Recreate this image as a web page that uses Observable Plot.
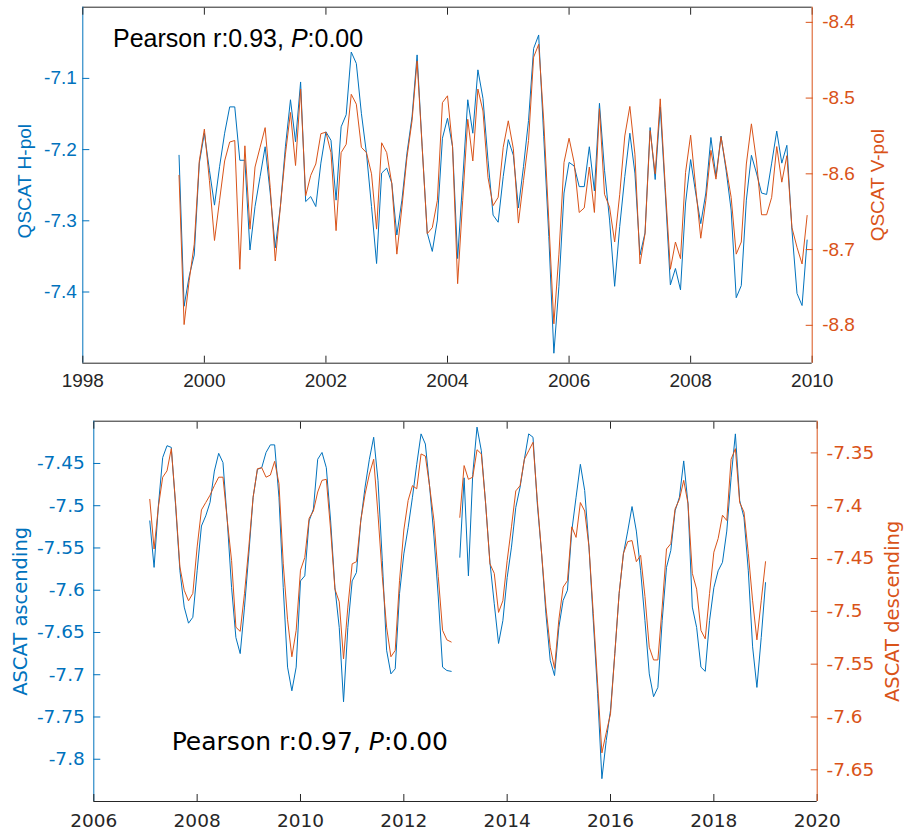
<!DOCTYPE html>
<html><head><meta charset="utf-8">
<script src="https://cdn.jsdelivr.net/npm/d3@7"></script>
<script src="https://cdn.jsdelivr.net/npm/@observablehq/plot@0.6"></script>
<style>
body{margin:0;background:#fff;}
#chart{position:relative;width:906px;height:836px;overflow:hidden;}
#chart svg{position:absolute;left:0;}
</style></head><body><div id="chart"></div>
<script>
const BLUE = "#0072BD", ORANGE = "#D95319", AX = "#262626";

// ---- Top panel: QSCAT, monthly from Aug 1999 to Dec 2009 ----
const qscatStart = [1999, 8];
const qscatHpol = [-7.208,-7.420,-7.378,-7.348,-7.219,-7.177,-7.229,-7.278,-7.224,-7.177,
 -7.140,-7.140,-7.215,-7.215,-7.341,-7.280,-7.238,-7.196,-7.261,-7.338,
 -7.280,-7.196,-7.130,-7.189,-7.105,-7.273,-7.266,-7.280,-7.219,-7.175,
 -7.187,-7.271,-7.168,-7.151,-7.063,-7.079,-7.149,-7.205,-7.280,-7.360,
 -7.233,-7.226,-7.247,-7.320,-7.271,-7.205,-7.154,-7.067,-7.196,-7.317,
 -7.343,-7.299,-7.184,-7.156,-7.196,-7.353,-7.243,-7.130,-7.177,-7.088,
 -7.128,-7.215,-7.292,-7.302,-7.238,-7.186,-7.208,-7.282,-7.224,-7.159,
 -7.058,-7.039,-7.182,-7.322,-7.486,-7.392,-7.261,-7.218,-7.223,-7.252,
 -7.252,-7.196,-7.258,-7.135,-7.229,-7.299,-7.392,-7.308,-7.238,-7.177,
 -7.233,-7.348,-7.317,-7.169,-7.242,-7.140,-7.261,-7.390,-7.367,-7.397,
 -7.275,-7.214,-7.261,-7.304,-7.261,-7.183,-7.238,-7.181,-7.229,-7.285,
 -7.408,-7.391,-7.271,-7.208,-7.233,-7.261,-7.263,-7.219,-7.174,-7.219,
 -7.194,-7.313,-7.402,-7.419,-7.327];
const qscatVpol = [-8.602,-8.799,-8.741,-8.693,-8.583,-8.541,-8.609,-8.688,-8.635,-8.583,
 -8.558,-8.556,-8.726,-8.563,-8.673,-8.591,-8.565,-8.539,-8.618,-8.715,
 -8.644,-8.574,-8.519,-8.589,-8.488,-8.629,-8.602,-8.587,-8.547,-8.545,
 -8.572,-8.675,-8.572,-8.561,-8.495,-8.508,-8.565,-8.572,-8.600,-8.673,
 -8.559,-8.572,-8.613,-8.706,-8.644,-8.578,-8.530,-8.451,-8.565,-8.679,
 -8.671,-8.635,-8.506,-8.497,-8.565,-8.745,-8.635,-8.528,-8.583,-8.488,
 -8.517,-8.605,-8.642,-8.631,-8.565,-8.530,-8.567,-8.665,-8.609,-8.556,
 -8.446,-8.429,-8.530,-8.662,-8.798,-8.706,-8.585,-8.553,-8.585,-8.651,
 -8.645,-8.591,-8.651,-8.514,-8.627,-8.644,-8.690,-8.627,-8.550,-8.511,
 -8.574,-8.719,-8.679,-8.543,-8.600,-8.501,-8.618,-8.726,-8.690,-8.712,
 -8.598,-8.549,-8.618,-8.685,-8.635,-8.569,-8.607,-8.551,-8.591,-8.631,
 -8.706,-8.690,-8.587,-8.534,-8.583,-8.654,-8.654,-8.631,-8.564,-8.611,
 -8.576,-8.671,-8.697,-8.719,-8.655];

// ---- Bottom panel: ASCAT, Feb 2007–Dec 2012 and Feb 2013–Jan 2019 ----
const ascatStart1 = [2007, 2];
const ascatStart2 = [2013, 2];
const ascatAsc1 = [-7.518,-7.573,-7.500,-7.443,-7.429,-7.431,-7.500,-7.577,-7.620,-7.639,
 -7.632,-7.577,-7.524,-7.512,-7.496,-7.459,-7.438,-7.449,-7.518,-7.597,
 -7.656,-7.675,-7.620,-7.557,-7.490,-7.457,-7.455,-7.437,-7.428,-7.428,
 -7.490,-7.597,-7.691,-7.719,-7.691,-7.589,-7.583,-7.518,-7.504,-7.445,
 -7.437,-7.455,-7.518,-7.597,-7.644,-7.732,-7.644,-7.589,-7.579,-7.518,
 -7.478,-7.445,-7.419,-7.470,-7.565,-7.671,-7.699,-7.693,-7.604,-7.557,
 -7.526,-7.490,-7.451,-7.415,-7.427,-7.478,-7.537,-7.608,-7.691,-7.695,
 -7.696];
const ascatAsc2 = [-7.561,-7.467,-7.583,-7.463,-7.407,-7.435,-7.498,-7.567,-7.616,-7.663,
 -7.636,-7.585,-7.549,-7.502,-7.478,-7.445,-7.415,-7.419,-7.498,-7.557,
 -7.628,-7.683,-7.701,-7.644,-7.612,-7.600,-7.530,-7.490,-7.451,-7.482,
 -7.549,-7.636,-7.722,-7.823,-7.778,-7.742,-7.675,-7.604,-7.557,-7.530,
 -7.501,-7.530,-7.577,-7.636,-7.699,-7.726,-7.715,-7.636,-7.573,-7.553,
 -7.506,-7.490,-7.447,-7.498,-7.620,-7.644,-7.691,-7.696,-7.636,-7.597,
 -7.577,-7.567,-7.530,-7.467,-7.415,-7.494,-7.514,-7.577,-7.667,-7.715,
 -7.656,-7.591];
const ascatDesc1 = [-7.394,-7.441,-7.401,-7.373,-7.367,-7.346,-7.398,-7.458,-7.480,-7.490,
 -7.483,-7.439,-7.404,-7.397,-7.390,-7.381,-7.373,-7.373,-7.414,-7.452,
 -7.515,-7.519,-7.483,-7.439,-7.392,-7.365,-7.364,-7.373,-7.371,-7.358,
 -7.379,-7.455,-7.508,-7.543,-7.518,-7.461,-7.449,-7.412,-7.405,-7.387,
 -7.376,-7.375,-7.423,-7.479,-7.491,-7.545,-7.496,-7.455,-7.453,-7.414,
 -7.389,-7.370,-7.356,-7.408,-7.467,-7.515,-7.543,-7.537,-7.471,-7.423,
 -7.395,-7.381,-7.384,-7.351,-7.353,-7.382,-7.414,-7.467,-7.518,-7.527,
 -7.529];
const ascatDesc2 = [-7.411,-7.362,-7.375,-7.373,-7.347,-7.351,-7.398,-7.455,-7.464,-7.501,
 -7.490,-7.452,-7.420,-7.386,-7.381,-7.356,-7.348,-7.340,-7.395,-7.445,
 -7.496,-7.534,-7.554,-7.508,-7.477,-7.471,-7.420,-7.430,-7.397,-7.405,
 -7.439,-7.502,-7.568,-7.634,-7.615,-7.597,-7.540,-7.483,-7.445,-7.434,
 -7.433,-7.453,-7.447,-7.486,-7.534,-7.546,-7.546,-7.496,-7.441,-7.436,
 -7.403,-7.394,-7.376,-7.398,-7.464,-7.479,-7.518,-7.526,-7.483,-7.444,
 -7.431,-7.409,-7.414,-7.356,-7.346,-7.397,-7.406,-7.445,-7.490,-7.527,
 -7.490,-7.453];

// ---- Axes ----
const topXDomain = [1998, 2010];
const topXTicks = [1998, 2000, 2002, 2004, 2006, 2008, 2010];
const topLeftDomain = [-7.5, -7.0];
const topLeftTicks = [-7.4, -7.3, -7.2, -7.1];
const topRightDomain = [-8.85, -8.38];
const topRightTicks = [-8.8, -8.7, -8.6, -8.5, -8.4];
const botXDomain = [2006, 2020];
const botXTicks = [2006, 2008, 2010, 2012, 2014, 2016, 2018, 2020];
const botLeftDomain = [-7.85, -7.40];
const botLeftTicks = [-7.8, -7.75, -7.7, -7.65, -7.6, -7.55, -7.5, -7.45];
const botRightDomain = [-7.68, -7.32];
const botRightTicks = [-7.65, -7.6, -7.55, -7.5, -7.45, -7.4, -7.35];

const labels = {
  topLeft: "QSCAT H-pol", topRight: "QSCAT V-pol",
  botLeft: "ASCAT ascending", botRight: "ASCAT descending",
  topStat: ["Pearson r:0.93, ", "P", ":0.00"],
  botStat: ["Pearson r:0.97, ", "P", ":0.00"]
};

function monthly([y, m], values, seg) {
  return values.map((v, i) => ({t: y + (m - 1 + i) / 12, v, seg}));
}

const topH = monthly(qscatStart, qscatHpol, 0);
const topV = monthly(qscatStart, qscatVpol, 0);
const botA = [...monthly(ascatStart1, ascatAsc1, 1), ...monthly(ascatStart2, ascatAsc2, 2)];
const botD = [...monthly(ascatStart1, ascatDesc1, 1), ...monthly(ascatStart2, ascatDesc2, 2)];

const fmt = d => String(d);
const chart = document.getElementById("chart");

function panel(cfg) {
  const common = {
    width: 906, height: cfg.height,
    marginLeft: cfg.mL, marginRight: cfg.mR, marginTop: cfg.mT, marginBottom: cfg.mB,
    style: {fontFamily: cfg.font, fontSize: cfg.fontSize + "px", background: "transparent", overflow: "visible"}
  };
  const left = Plot.plot({
    ...common,
    x: {domain: cfg.xDomain},
    y: {domain: cfg.leftDomain},
    marks: [
      Plot.ruleY([cfg.leftDomain[1]], {stroke: AX, strokeWidth: 1}),
      Plot.ruleY([cfg.leftDomain[0]], {stroke: AX, strokeWidth: 1}),
      Plot.ruleX([cfg.xDomain[0]], {stroke: BLUE, strokeWidth: 1}),
      Plot.axisX(cfg.xTicks, {anchor: "bottom", tickSize: -7, tickPadding: cfg.xPad, tickFormat: fmt, label: null, color: AX}),
      Plot.axisX(cfg.xTicks, {anchor: "top", tickSize: -7, tickFormat: () => "", label: null, color: AX}),
      Plot.axisY(cfg.leftTicks, {anchor: "left", tickSize: -7, tickPadding: cfg.lPad, tickFormat: fmt, label: null, color: BLUE}),
      Plot.line(cfg.leftData, {x: "t", y: "v", z: "seg", stroke: BLUE, strokeWidth: 1}),
      Plot.text([cfg.leftLabel], {text: d => d, frameAnchor: "left", textAnchor: "middle", lineAnchor: "middle", dx: cfg.lTitleDx, dy: cfg.lTitleDy, rotate: -90, fill: BLUE, fontSize: cfg.titleSize})
    ]
  });
  const right = Plot.plot({
    ...common,
    x: {domain: cfg.xDomain, axis: null},
    y: {domain: cfg.rightDomain},
    marks: [
      Plot.ruleX([cfg.xDomain[1]], {stroke: ORANGE, strokeWidth: 1}),
      Plot.axisY(cfg.rightTicks, {anchor: "right", tickSize: -7, tickPadding: cfg.rPad, tickFormat: fmt, label: null, color: ORANGE}),
      Plot.line(cfg.rightData, {x: "t", y: "v", z: "seg", stroke: ORANGE, strokeWidth: 1}),
      Plot.text([cfg.rightLabel], {text: d => d, frameAnchor: "right", textAnchor: "middle", lineAnchor: "middle", dx: cfg.rTitleDx, rotate: -90, fill: ORANGE, fontSize: cfg.titleSize})
    ]
  });
  left.style.top = cfg.top + "px";
  right.style.top = cfg.top + "px";
  chart.appendChild(left);
  chart.appendChild(right);
  // Pearson annotation with italic P
  const t = d3.select(right).append("text")
    .attr("x", cfg.statX).attr("y", cfg.statY)
    .attr("text-anchor", "start")
    .attr("fill", "#000").attr("font-size", cfg.statSize)
    .attr("font-family", cfg.font);
  t.append("tspan").text(cfg.stat[0]);
  t.append("tspan").attr("font-style", "italic").text(cfg.stat[1]);
  t.append("tspan").text(cfg.stat[2]);
}

panel({
  top: 0, height: 400, mL: 82.3, mR: 94.3, mT: 6.7, mB: 37.3,
  font: "'Liberation Sans', Arial, sans-serif", fontSize: 19, titleSize: 19,
  xDomain: topXDomain, xTicks: topXTicks, xPad: 17,
  leftDomain: topLeftDomain, leftTicks: topLeftTicks, lPad: 13,
  rightDomain: topRightDomain, rightTicks: topRightTicks, rPad: 17,
  leftData: topH, rightData: topV,
  leftLabel: labels.topLeft, rightLabel: labels.topRight,
  lTitleDx: -58.3, lTitleDy: -4, rTitleDx: 66,
  stat: labels.topStat, statX: 113, statY: 46.7, statSize: 25
});

panel({
  top: 400, height: 436, mL: 93.3, mR: 89.3, mT: 20.7, mB: 35,
  font: "'DejaVu Sans', sans-serif", fontSize: 18.5, titleSize: 19.5,
  xDomain: botXDomain, xTicks: botXTicks, xPad: 19,
  leftDomain: botLeftDomain, leftTicks: botLeftTicks, lPad: 16,
  rightDomain: botRightDomain, rightTicks: botRightTicks, rPad: 16.3,
  leftData: botA, rightData: botD,
  leftLabel: labels.botLeft, rightLabel: labels.botRight,
  lTitleDx: -73.3, lTitleDy: 0, rTitleDx: 75.8,
  stat: labels.botStat, statX: 171.7, statY: 350, statSize: 25
});
</script>
</body></html>
